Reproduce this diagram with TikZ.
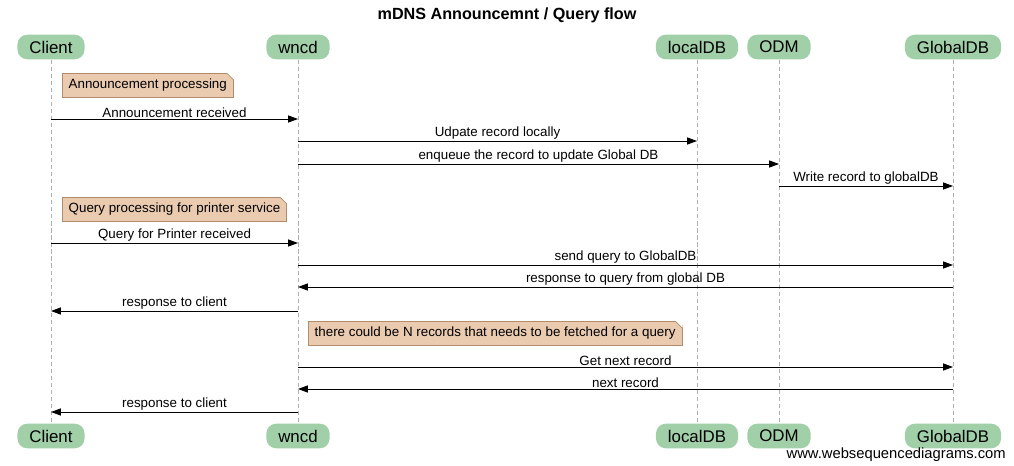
\documentclass[tikz,border=0pt]{standalone}
\usepackage{fontspec}
\setmainfont{Liberation Sans}
\usetikzlibrary{arrows.meta}
\definecolor{actorgreen}{RGB}{160,207,168}
\definecolor{notefill}{RGB}{234,203,176}
\definecolor{noteline}{RGB}{176,140,108}
\definecolor{lifegray}{RGB}{175,175,175}

\begin{document}
\begin{tikzpicture}[x=0.025cm,y=-0.025cm,
actor/.style={rectangle,rounded corners=7pt,fill=actorgreen,inner xsep=8.5pt,minimum height=17.5pt,font=\fontsize{12}{14}\selectfont},
lifeline/.style={lifegray,dash pattern=on 3pt off 2pt,line width=0.5pt},
msg/.style={-{Triangle[length=7pt,width=5pt]},line width=0.6pt},
msglabel/.style={midway,above,inner sep=0.6pt,font=\fontsize{9.5}{11}\selectfont},
note/.style={rectangle,fill=notefill,draw=noteline,line width=0.5pt,inner xsep=4.5pt,minimum height=17pt,anchor=north west,font=\fontsize{9.5}{11}\selectfont}]

\useasboundingbox (0,0) rectangle (1014,466);

\node[font=\fontsize{11.5}{13}\selectfont\bfseries] (title) at (507,15) {mDNS Announcemnt / Query flow};

% participants, top and bottom
\node[actor] (client) at (51,47) {Client};
\node[actor] (wncd) at (298,47) {wncd};
\node[actor] (localdb) at (697,47) {localDB};
\node[actor] (odm) at (779,47) {ODM};
\node[actor] (globaldb) at (953,47) {GlobalDB};

\node[actor] (client-bot) at (51,436) {Client};
\node[actor] (wncd-bot) at (298,436) {wncd};
\node[actor] (localdb-bot) at (697,436) {localDB};
\node[actor] (odm-bot) at (779,436) {ODM};
\node[actor] (globaldb-bot) at (953,436) {GlobalDB};

\foreach \p in {client,wncd,localdb,odm,globaldb}
  \draw[lifeline] (\p.south) -- (\p-bot.north);

% notes
\node[note] (announce) at (62,73) {Announcement processing};
\node[note] (query) at (62,197) {Query processing for printer service};
\node[note] (nrec) at (308,321) {there could be N records that needs to be fetched for a query};

\foreach \n in {announce,query,nrec} {
  \fill[white] ([xshift=-5pt]\n.north east) -- ([xshift=1pt,yshift=1pt]\n.north east) -- ([yshift=-5pt]\n.north east) -- cycle;
  \draw[noteline,line width=0.5pt] ([xshift=-5pt]\n.north east) -- ([yshift=-5pt]\n.north east);
}

% messages
\draw[msg] (client |- 0,119) -- node[msglabel] {Announcement received} (wncd |- 0,119);
\draw[msg] (wncd |- 0,141) -- node[msglabel] {Udpate record locally} (localdb |- 0,141);
\draw[msg] (wncd |- 0,164) -- node[msglabel] {enqueue the record to update Global DB} (odm |- 0,164);
\draw[msg] (odm |- 0,186) -- node[msglabel] {Write record to globalDB} (globaldb |- 0,186);

\draw[msg] (client |- 0,243) -- node[msglabel] {Query for Printer received} (wncd |- 0,243);
\draw[msg] (wncd |- 0,265) -- node[msglabel] {send query to GlobalDB} (globaldb |- 0,265);
\draw[msg] (globaldb |- 0,287) -- node[msglabel] {response to query from global DB} (wncd |- 0,287);
\draw[msg] (wncd |- 0,311) -- node[msglabel] {response to client} (client |- 0,311);

\draw[msg] (wncd |- 0,367) -- node[msglabel] {Get next record} (globaldb |- 0,367);
\draw[msg] (globaldb |- 0,389) -- node[msglabel] {next record} (wncd |- 0,389);
\draw[msg] (wncd |- 0,412) -- node[msglabel] {response to client} (client |- 0,412);

\node[anchor=south east,inner sep=0pt,font=\fontsize{10.5}{12}\selectfont] (site) at (1006,462) {www.websequencediagrams.com};
\end{tikzpicture}
\end{document}
